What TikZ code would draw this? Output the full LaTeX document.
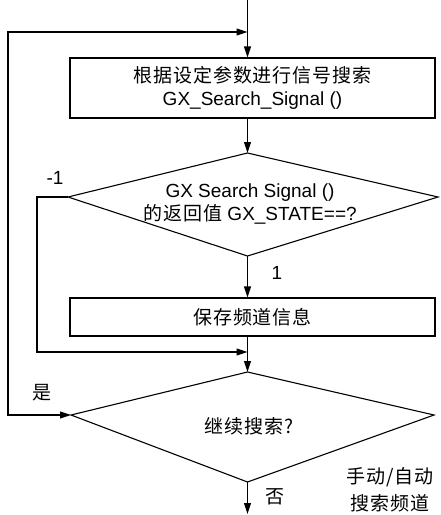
\documentclass[tikz,border=0pt]{standalone}
\usepackage{fontspec}
\setmainfont{Liberation Sans}
\newfontfamily\cjk[LetterSpace=5]{Noto Sans CJK SC}
\usetikzlibrary{arrows.meta}
\begin{document}
\begin{tikzpicture}[x=1pt,y=-1pt,line width=1.1pt,
  flow/.style={-{Triangle[length=11pt,width=7pt]}},
  twoway/.style={{Triangle[length=11pt,width=7pt]}-{Triangle[length=11pt,width=7pt]}},
  box/.style={draw,minimum width=365pt,inner sep=0pt,align=center},
  lbl/.style={inner sep=0pt,align=center},
  font=\fontsize{19}{23}\selectfont]
\useasboundingbox (0,0) rectangle (440,515);

% process boxes
\node[box,minimum height=60pt] (search) at (252.5,88)
  {{\cjk 根据设定参数进行信号搜索}\\GX\_Search\_Signal ()};
\node[box,minimum height=38pt] (save) at (252.5,317) {{\cjk 保存频道信息}};

% decision 1
\coordinate (d1t) at (247.5,153);
\coordinate (d1l) at (68,197);
\coordinate (d1r) at (438,197);
\coordinate (d1b) at (247.5,256);
\draw (d1t) -- (d1r) -- (d1b) -- (d1l) -- cycle;
\node[lbl] (q1) at (250,204) {GX Search Signal ()\\{\cjk 的返回值} GX\_STATE==?};

% decision 2
\coordinate (d2t) at (247.5,372);
\coordinate (d2l) at (71,415);
\coordinate (d2r) at (434,415);
\coordinate (d2b) at (247.5,482);
\draw (d2t) -- (d2r) -- (d2b) -- (d2l) -- cycle;
\node[lbl] (q2) at (249,426) {{\cjk 继续搜索?}};

% junctions and free ends
\coordinate (top) at (247.5,0);
\coordinate (m1) at (247.5,32);
\coordinate (m2) at (247.5,352);
\coordinate (bot) at (247.5,514);

% connectors
\draw (top) -- (m1);
\draw[flow] (m1) -- (top |- search.north);
\draw[flow] (top |- search.south) -- (d1t);
\draw[flow] (d1b) -- (top |- save.north);
\draw (top |- save.south) -- (m2);
\draw[flow] (m2) -- (d2t);
\draw[flow] (d1l) -- ++(-31,0) |- (m2);
\draw[twoway] (d2l) -- (8,415) |- (m1);
\draw[flow] (d2b) -- (bot);

% branch labels
\node[lbl] (lminus) at (55,178) {-1};
\node[lbl] (lone) at (277,273) {1};
\node[lbl] (lyes) at (42,393) {\cjk 是};
\node[lbl] (lno) at (275,497) {\cjk 否};
\node[lbl,font=\fontsize{19}{27}\selectfont] (lmode) at (390,490)
  {{\cjk 手动/自动}\\{\cjk 搜索频道}};
\end{tikzpicture}
\end{document}
